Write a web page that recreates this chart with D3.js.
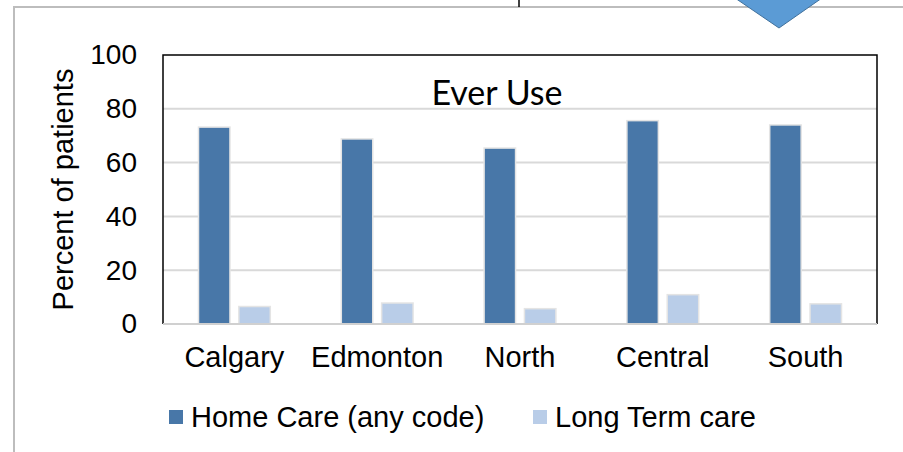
<!DOCTYPE html>
<html>
<head>
<meta charset="utf-8">
<script src="https://cdn.jsdelivr.net/npm/d3@7"></script>
<style>
  body { margin: 0; background: #fff; }
  svg { display: block; font-family: 'Liberation Sans', Arial, sans-serif; }
</style>
</head>
<body>
<svg></svg>
<script>
const width = 903;
const height = 452;

const regions = ['Calgary', 'Edmonton', 'North', 'Central', 'South'];
const seriesNames = ['Home Care (any code)', 'Long Term care'];
const homeCare = [73.2, 68.8, 65.4, 75.6, 74.0];
const longTermCare = [6.5, 7.8, 5.7, 10.9, 7.5];
const yTicks = [0, 20, 40, 60, 80, 100];
const colors = ['#4877a8', '#b9cde8'];

const margin = { top: 55, right: 26, bottom: 128, left: 163 };

const svg = d3.select('svg')
  .attr('width', width)
  .attr('height', height);

// ====================================
// Page frame + bits of the slide
// ====================================
svg.append('path')
  .attr('d', `M14,${height} L14,7 L${width},7`)
  .attr('fill', 'none')
  .attr('stroke', '#bdbdbd')
  .attr('stroke-width', 2);

svg.append('line')
  .attr('x1', 519).attr('x2', 519)
  .attr('y1', 0).attr('y2', 7)
  .attr('stroke', '#000')
  .attr('stroke-width', 1.5);

svg.append('polygon')
  .attr('points', '735,-2 822,-2 779,28')
  .attr('fill', '#5b9bd5')
  .attr('stroke', '#41719c')
  .attr('stroke-width', 1);

// ====================================
// Scales
// ====================================
const x0 = d3.scaleBand()
  .domain(regions)
  .range([margin.left, width - margin.right]);

const x1 = d3.scaleBand()
  .domain(seriesNames)
  .range([0, x0.bandwidth()])
  .paddingInner(0.22)
  .paddingOuter(0.88);

const y = d3.scaleLinear()
  .domain([0, 100])
  .range([height - margin.bottom, margin.top]);

// ====================================
// Grid + axes
// ====================================
svg.append('g')
  .selectAll('line')
  .data(yTicks.filter(d => d > 0 && d < 100))
  .enter()
  .append('line')
  .attr('x1', margin.left)
  .attr('x2', width - margin.right)
  .attr('y1', d => y(d))
  .attr('y2', d => y(d))
  .attr('stroke', '#d9d9d9')
  .attr('stroke-width', 2);

const yAxis = d3.axisLeft(y)
  .tickValues(yTicks)
  .tickSize(0)
  .tickPadding(26);

svg.append('g')
  .attr('transform', `translate(${margin.left}, 0)`)
  .call(yAxis)
  .call(g => g.select('.domain').remove())
  .selectAll('text')
  .attr('font-size', 28)
  .attr('fill', '#000')
  .attr('font-family', "'Liberation Sans', Arial, sans-serif");

const xAxis = d3.axisBottom(x0)
  .tickSize(0)
  .tickPadding(22);

svg.append('g')
  .attr('transform', `translate(0, ${y(0)})`)
  .call(xAxis)
  .call(g => g.select('.domain').remove())
  .selectAll('text')
  .attr('font-size', 29)
  .attr('fill', '#000')
  .attr('font-family', "'Liberation Sans', Arial, sans-serif");

// ====================================
// Bars
// ====================================
const rows = regions.map((r, i) => ({ region: r, values: [homeCare[i], longTermCare[i]] }));

svg.append('g')
  .selectAll('g')
  .data(rows)
  .enter()
  .append('g')
  .attr('transform', d => `translate(${x0(d.region)}, 0)`)
  .selectAll('rect')
  .data(d => d.values.map((v, i) => ({ key: seriesNames[i], value: v, i })))
  .enter()
  .append('rect')
  .attr('x', d => x1(d.key))
  .attr('y', d => y(d.value))
  .attr('width', x1.bandwidth())
  .attr('height', d => y(0) - y(d.value))
  .attr('fill', d => colors[d.i])
  .attr('stroke', '#e4e4e4')
  .attr('stroke-width', 1.5);

// plot frame
svg.append('path')
  .attr('d', `M${margin.left},${y(0)} L${margin.left},${margin.top} L${width - margin.right},${margin.top} L${width - margin.right},${y(0)}`)
  .attr('fill', 'none')
  .attr('stroke', '#000')
  .attr('stroke-width', 1.5);

svg.append('line')
  .attr('x1', margin.left).attr('x2', width - margin.right)
  .attr('y1', y(0)).attr('y2', y(0))
  .attr('stroke', '#d0d0d0')
  .attr('stroke-width', 2);

// ====================================
// Titles
// ====================================
svg.append('text')
  .text('Ever Use')
  .attr('x', 497)
  .attr('y', 105)
  .attr('text-anchor', 'middle')
  .attr('font-family', 'Lato, "Open Sans", sans-serif')
  .attr('font-size', 34)
  .attr('fill', '#000');

svg.append('text')
  .text('Percent of patients')
  .attr('transform', `translate(73, ${y(50)}) rotate(-90)`)
  .attr('text-anchor', 'middle')
  .attr('font-size', 29)
  .attr('fill', '#000');

// ====================================
// Legend
// ====================================
const legendX = [169, 533];
const legend = svg.append('g')
  .selectAll('g')
  .data(seriesNames)
  .enter()
  .append('g')
  .attr('transform', (d, i) => `translate(${legendX[i]}, 410)`);

legend.append('rect')
  .attr('width', 14)
  .attr('height', 14)
  .attr('fill', (d, i) => colors[i]);

legend.append('text')
  .text(d => d)
  .attr('x', 22)
  .attr('y', 17)
  .attr('font-size', 29)
  .attr('fill', '#000');
</script>
</body>
</html>
